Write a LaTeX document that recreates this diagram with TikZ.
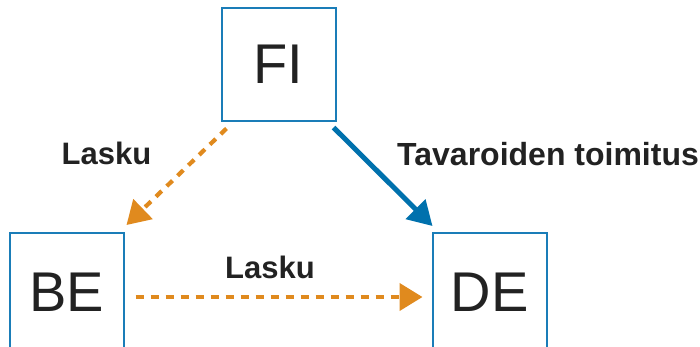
\documentclass[tikz,border=0pt]{standalone}
\usepackage{fontspec}
\setmainfont{Liberation Sans}
\usetikzlibrary{arrows.meta}
\definecolor{boxblue}{HTML}{1A7DB8}
\definecolor{arrblue}{HTML}{0071AD}
\definecolor{arrorange}{HTML}{E08A1E}
\definecolor{txt}{HTML}{222222}
\tikzset{
  country/.style={draw=boxblue, line width=2pt, minimum width=114pt, minimum height=113pt, inner sep=0pt, text=txt, font=\fontsize{56}{60}\selectfont},
  lbl/.style={anchor=base west, inner sep=0pt, text=txt, font=\fontsize{31}{34}\selectfont\bfseries},
  invoice/.style={draw=arrorange, line width=4.2pt, dash pattern=on 8pt off 7pt, -{Triangle[length=23pt,width=27pt]}},
  goods/.style={draw=arrblue, line width=5pt, -{Triangle[length=24pt,width=27pt]}}
}
\begin{document}
\begin{tikzpicture}[x=1pt,y=-1pt]
\useasboundingbox (0,0) rectangle (700,346);
\clip (0,0) rectangle (700,346);
\node[country] (FI) at (278.5,64) {FI};
\node[country, minimum height=118pt] (BE) at (66.5,292) {BE};
\node[country, minimum height=118pt] (DE) at (489.5,292) {DE};
\draw[invoice] ([xshift=6pt,yshift=-7pt]FI.south west) -- ([xshift=2pt,yshift=7pt]BE.north east);
\draw[goods] ([xshift=-3pt,yshift=-6pt]FI.south east) -- ([xshift=1pt,yshift=6pt]DE.north west);
\draw[invoice] ([xshift=11pt,yshift=-5pt]BE.east) -- ([xshift=-9pt,yshift=-5pt]DE.west);
\node[lbl] (l1) at (61.5,164) {Lasku};
\node[lbl, font=\fontsize{32}{34}\selectfont\bfseries] (l2) at (397,165) {Tavaroiden toimitus};
\node[lbl] (l3) at (225,278) {Lasku};
\end{tikzpicture}
\end{document}
